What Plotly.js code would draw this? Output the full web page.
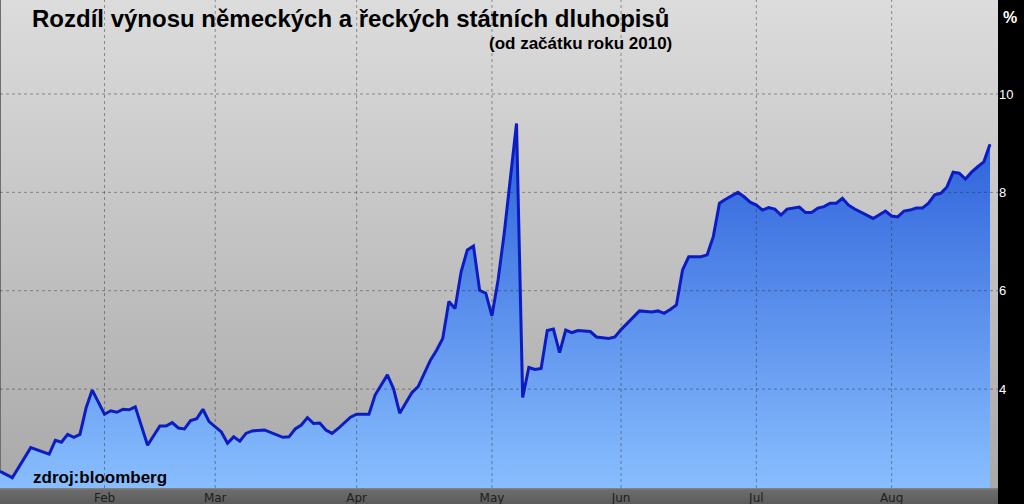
<!DOCTYPE html>
<html>
<head>
<meta charset="utf-8">
<script src="https://cdn.plot.ly/plotly-3.0.1.min.js"></script>
<style>
html,body{margin:0;padding:0;background:#000;}
#chart{width:1024px;height:504px;
background:
 linear-gradient(#000,#000) right top / 26px 504px no-repeat,
 linear-gradient(to bottom,#878787 0px,#6c6c6c 2px,#5c5c5c 16px) left bottom / 998px 16px no-repeat,
 linear-gradient(#6e6e6e,#6e6e6e) left top / 1px 488px no-repeat,
 linear-gradient(to bottom,#dcdcdc,#a9a9a9) left top / 998px 488px no-repeat;}
</style>
</head>
<body>
<div id="chart"></div>
<script>
// trading-day index (0 = first trading day of 2010) and spread in %
const dayIndex = [0,2,5,8,9,10,11,12,13,14,15,17,18,19,20,21,22,24,26,27,28,29,30,31,32,33,34,36,37,38,39,40,41,43,46,47,48,49,50,51,52,53,54,55,57,58,60,61,63,64,65,67,68,70,71,72,73,74,75,76,77,78,79,80,81,82,84,85,86,87,88,89,90,91,92,93,94,96,97,99,100,101,104,106,107,108,109,110,111,112,114,115,116,117,118,120,121,122,123,124,125,126,127,128,130,131,132,133,134,135,136,137,138,139,142,144,145,146,147,148,149,150,151,152,153,154,155,156,157,158,159,160,161];
const spread = [2.33,2.20,2.81,2.68,2.96,2.92,3.08,3.02,3.08,3.62,3.98,3.49,3.56,3.53,3.59,3.58,3.64,2.86,3.25,3.25,3.32,3.21,3.19,3.36,3.40,3.59,3.34,3.13,2.90,3.03,2.94,3.10,3.15,3.17,3.02,3.03,3.19,3.27,3.42,3.30,3.31,3.17,3.10,3.20,3.43,3.49,3.49,3.88,4.29,4.01,3.51,3.93,4.05,4.59,4.79,5.03,5.78,5.64,6.39,6.83,6.91,6.01,5.95,5.49,6.22,7.17,9.40,3.83,4.44,4.40,4.42,5.19,5.22,4.74,5.20,5.15,5.19,5.17,5.06,5.03,5.06,5.21,5.59,5.57,5.59,5.54,5.62,5.71,6.42,6.69,6.69,6.73,7.10,7.78,7.86,8.00,7.91,7.80,7.74,7.64,7.69,7.66,7.54,7.66,7.70,7.59,7.59,7.68,7.71,7.78,7.78,7.88,7.74,7.66,7.47,7.62,7.52,7.50,7.62,7.64,7.68,7.68,7.78,7.95,7.98,8.11,8.41,8.39,8.27,8.41,8.52,8.62,8.98];
const monthTickVals = [17,35,58,80,101,123,145];
const monthTickText = ['Feb','Mar','Apr','May','Jun','Jul','Aug'];
const yTickVals = [4,6,8,10];
const titleText = 'Rozdíl výnosu německých a řeckých státních dluhopisů';
const subtitleText = '(od začátku roku 2010)';
const sourceText = 'zdroj:bloomberg';
const unitText = '%';

const X_RANGE = [0, 162.3];
const Y_RANGE = [1.99, 11.91];
const gridStyle = {color:'rgba(45,45,45,0.45)', width:1, dash:'dot'};

const shapes = [];
monthTickVals.forEach(v => shapes.push({type:'line', xref:'x', yref:'paper', x0:v, x1:v, y0:0, y1:1, line:gridStyle, layer:'above'}));
yTickVals.forEach(v => shapes.push({type:'line', xref:'paper', yref:'y', x0:0, x1:1, y0:v, y1:v, line:gridStyle, layer:'above'}));

const trace = {
  x: dayIndex, y: spread, type:'scatter', mode:'lines',
  line:{color:'#0c1cc4', width:3},
  fill:'tozeroy',
  fillgradient:{type:'vertical', start:2, stop:9.4, colorscale:[[0,'#88befe'],[1,'#2a5ed9']]},
  hoverinfo:'skip'
};

const layout = {
  width:1024, height:504,
  margin:{l:0, r:26, t:0, b:16, pad:0},
  paper_bgcolor:'rgba(0,0,0,0)', plot_bgcolor:'rgba(0,0,0,0)',
  showlegend:false,
  xaxis:{range:X_RANGE, tickmode:'array', tickvals:monthTickVals, ticktext:monthTickText,
    showgrid:false, zeroline:false, showline:false, ticks:'', ticklabelstandoff:1,
    tickfont:{family:'DejaVu Sans', size:12, color:'#1e1e1e'}},
  yaxis:{range:Y_RANGE, side:'right', tickmode:'array', tickvals:yTickVals,
    showgrid:false, zeroline:false, showline:false, ticks:'',
    tickfont:{family:'Liberation Sans', size:13, color:'#ffffff'}},
  shapes: shapes,
  annotations:[
    {text:titleText, xref:'paper', yref:'paper', x:30/998, y:1-19/488, xanchor:'left', yanchor:'middle', showarrow:false,
     font:{family:'Liberation Sans', size:24, color:'#000', weight:'bold'}},
    {text:subtitleText, xref:'paper', yref:'paper', x:674/998, y:1-44/488, xanchor:'right', yanchor:'middle', showarrow:false,
     font:{family:'Liberation Sans', size:17, color:'#000', weight:'bold'}},
    {text:sourceText, xref:'paper', yref:'paper', x:31/998, y:1-477/488, xanchor:'left', yanchor:'middle', showarrow:false,
     font:{family:'Liberation Sans', size:17, color:'#000', weight:'bold'}},
    {text:unitText, xref:'paper', yref:'paper', x:1010/998, y:1-17/488, xanchor:'center', yanchor:'middle', showarrow:false,
     font:{family:'Liberation Sans', size:16, color:'#fff', weight:'bold'}}
  ]
};

Plotly.newPlot('chart', [trace], layout, {displayModeBar:false, staticPlot:true});
</script>
</body>
</html>
